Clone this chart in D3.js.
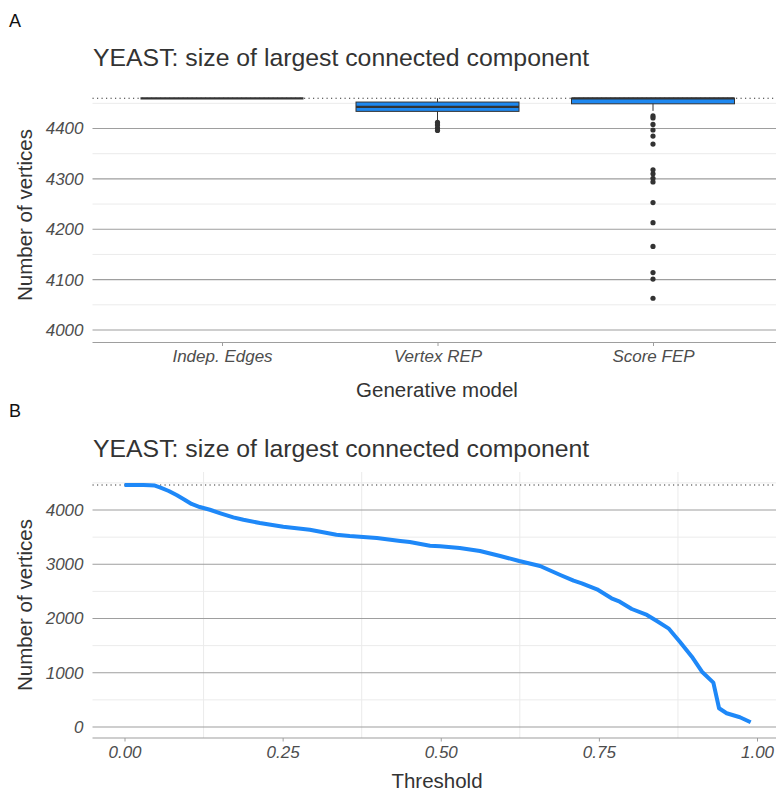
<!DOCTYPE html>
<html>
<head>
<meta charset="utf-8">
<script src="https://cdn.jsdelivr.net/npm/d3@7"></script>
<style>
  body { margin: 0; background: #fff; }
  svg { display: block; font-family: "Liberation Sans", Arial, sans-serif; }
  .tick text { font-style: italic; fill: #4d4d4d; font-size: 17px; }
  .title { font-size: 24.8px; fill: #333; }
  .axtitle { font-size: 20.5px; fill: #333; }
  .tag { font-size: 18px; fill: #111; }
</style>
</head>
<body>
<svg id="chart" width="776" height="792"></svg>
<script>
// Panel A: boxplot summary per generative model
var models = ["Indep. Edges", "Vertex REP", "Score FEP"]
var boxLow = [4460, 4415, 4435]
var boxQ1 = [4460, 4434, 4449]
var boxMedian = [4460, 4443, 4460]
var boxQ3 = [4460, 4452.5, 4460]
var boxHigh = [4460, 4460, 4460]
var outliers = [
	[],
	[4412, 4407, 4401, 4396],
	[4425, 4421, 4408, 4397, 4385, 4369, 4318, 4310, 4301, 4294, 4253, 4213, 4166, 4114, 4101, 4063]
]
var fullSize = 4460
var yTicksA = [4000, 4100, 4200, 4300, 4400]
var yMinorA = [4050, 4150, 4250, 4350, 4450]

// Panel B: size of the largest component against threshold
var thresholds = [0, 0.01, 0.02, 0.03, 0.04, 0.048, 0.056, 0.07, 0.083, 0.095, 0.106, 0.119, 0.135, 0.153, 0.172, 0.188, 0.214, 0.251, 0.293, 0.335, 0.356, 0.399, 0.436, 0.451, 0.483, 0.499, 0.53, 0.562, 0.594, 0.624, 0.657, 0.689, 0.71, 0.723, 0.747, 0.77, 0.783, 0.802, 0.826, 0.841, 0.86, 0.878, 0.897, 0.913, 0.931, 0.94, 0.952, 0.973, 0.99]
var sizes = [4460, 4460, 4460, 4460, 4458, 4450, 4418, 4350, 4271, 4190, 4111, 4055, 4005, 3935, 3865, 3821, 3760, 3692, 3637, 3545, 3521, 3484, 3429, 3410, 3342, 3331, 3300, 3244, 3152, 3060, 2968, 2802, 2697, 2649, 2538, 2372, 2310, 2175, 2065, 1959, 1819, 1572, 1296, 1019, 817, 345, 253, 179, 87]
var xTicksB = [0, 0.25, 0.5, 0.75, 1]
var xMinorB = [0.125, 0.375, 0.625, 0.875]
var yTicksB = [0, 1000, 2000, 3000, 4000]
var yMinorB = [500, 1500, 2500, 3500, 4500]

var svg = d3.select("#chart")
var left = 92.5, right = 782

drawPanelA()
drawPanelB()

// horizontal grid lines for one panel
function grid(g, y, major, minor) {
	g.selectAll(".minor").data(minor).enter().append("line")
		.attr("x1", left).attr("x2", right)
		.attr("y1", function(d) { return y(d) }).attr("y2", function(d) { return y(d) })
		.style("stroke", "#ebebeb").style("stroke-width", 1)
	g.selectAll(".major").data(major).enter().append("line")
		.attr("x1", left).attr("x2", right)
		.attr("y1", function(d) { return y(d) }).attr("y2", function(d) { return y(d) })
		.style("stroke", "#9e9e9e").style("stroke-width", 1.1)
}

function yAxis(g, y, ticks) {
	g.append("g")
		.attr("transform", "translate(" + left + ",0)")
		.call(d3.axisLeft(y).tickValues(ticks).tickSize(0).tickPadding(9).tickFormat(d3.format("d")))
		.call(function(a) { a.select(".domain").remove() })
}

function xAxis(g, x, ticks, yPos, fmt) {
	g.append("line")
		.attr("x1", left).attr("x2", right).attr("y1", yPos).attr("y2", yPos)
		.style("stroke", "#9e9e9e").style("stroke-width", 1.1)
	var ax = d3.axisBottom(x).tickValues(ticks).tickSize(3.5).tickPadding(4)
	if (fmt) ax.tickFormat(fmt)
	g.append("g")
		.attr("transform", "translate(0," + yPos + ")")
		.call(ax)
		.call(function(a) {
			a.select(".domain").remove()
			a.selectAll(".tick line").style("stroke", "#9e9e9e")
		})
}

function labels(g, tag, tagY, titleY, yMid, xTitle, xTitleY) {
	g.append("text").attr("class", "tag").attr("x", 9).attr("y", tagY).text(tag)
	g.append("text").attr("class", "title").attr("x", 93).attr("y", titleY)
		.text("YEAST: size of largest connected component")
	g.append("text").attr("class", "axtitle")
		.attr("transform", "translate(25," + yMid + ") rotate(-90)")
		.attr("text-anchor", "middle").attr("dy", "0.35em")
		.text("Number of vertices")
	g.append("text").attr("class", "axtitle")
		.attr("x", 437).attr("y", xTitleY).attr("text-anchor", "middle")
		.text(xTitle)
}

function drawPanelA() {
	var g = svg.append("g")
	var y = d3.scaleLinear().domain([4000, 4400]).range([330, 128.5])
	var x = d3.scalePoint().domain(models).range([222, 653])
	var bw = 163

	grid(g, y, yTicksA, yMinorA)
	yAxis(g, y, yTicksA)
	xAxis(g, x, models, 342.5, null)

	// reference line: size of the whole network
	g.append("line")
		.attr("x1", left).attr("x2", right).attr("y1", y(fullSize)).attr("y2", y(fullSize))
		.style("stroke", "#333").style("stroke-width", 1.1).style("stroke-dasharray", "1.2,3.3")

	var box = g.selectAll(".box").data(models).enter().append("g").attr("class", "box")
	box.append("line")
		.attr("x1", function(d) { return x(d) }).attr("x2", function(d) { return x(d) })
		.attr("y1", function(d, i) { return y(boxLow[i]) })
		.attr("y2", function(d, i) { return y(boxHigh[i]) })
		.style("stroke", "#333").style("stroke-width", 1)
	box.append("rect")
		.attr("x", function(d) { return x(d) - bw / 2 })
		.attr("width", bw)
		.attr("y", function(d, i) { return y(boxQ3[i]) })
		.attr("height", function(d, i) { return y(boxQ1[i]) - y(boxQ3[i]) })
		.style("fill", "#1e88f0").style("stroke", "#333").style("stroke-width", 1)
	box.append("line")
		.attr("x1", function(d) { return x(d) - bw / 2 }).attr("x2", function(d) { return x(d) + bw / 2 })
		.attr("y1", function(d, i) { return y(boxMedian[i]) })
		.attr("y2", function(d, i) { return y(boxMedian[i]) })
		.style("stroke", "#333").style("stroke-width", 2.2)
	box.selectAll("circle")
		.data(function(d, i) { return outliers[i].map(function(v) { return {m: d, v: v} }) })
		.enter().append("circle")
		.attr("cx", function(d) { return x(d.m) })
		.attr("cy", function(d) { return y(d.v) })
		.attr("r", 2.6)
		.style("fill", "#333")

	labels(g, "A", 27, 66, 215, "Generative model", 397)
}

function drawPanelB() {
	var g = svg.append("g")
	var y = d3.scaleLinear().domain([0, 4000]).range([727, 510])
	var x = d3.scaleLinear().domain([0, 1]).range([124.5, 757])

	g.selectAll(".vminor").data(xMinorB).enter().append("line")
		.attr("x1", function(d) { return x(d) }).attr("x2", function(d) { return x(d) })
		.attr("y1", 472).attr("y2", 738)
		.style("stroke", "#ebebeb").style("stroke-width", 1)
	grid(g, y, yTicksB, yMinorB)
	yAxis(g, y, yTicksB)
	xAxis(g, x, xTicksB, 738, d3.format(".2f"))

	g.append("line")
		.attr("x1", left).attr("x2", right).attr("y1", y(fullSize)).attr("y2", y(fullSize))
		.style("stroke", "#333").style("stroke-width", 1.1).style("stroke-dasharray", "1.2,3.3")

	var line = d3.line()
		.x(function(d, i) { return x(thresholds[i]) })
		.y(function(d) { return y(d) })
	g.append("path")
		.attr("d", line(sizes))
		.style("fill", "none").style("stroke", "#1e88f8").style("stroke-width", 4)
		.style("stroke-linejoin", "round")

	labels(g, "B", 417, 457, 605, "Threshold", 788)
}
</script>
</body>
</html>
